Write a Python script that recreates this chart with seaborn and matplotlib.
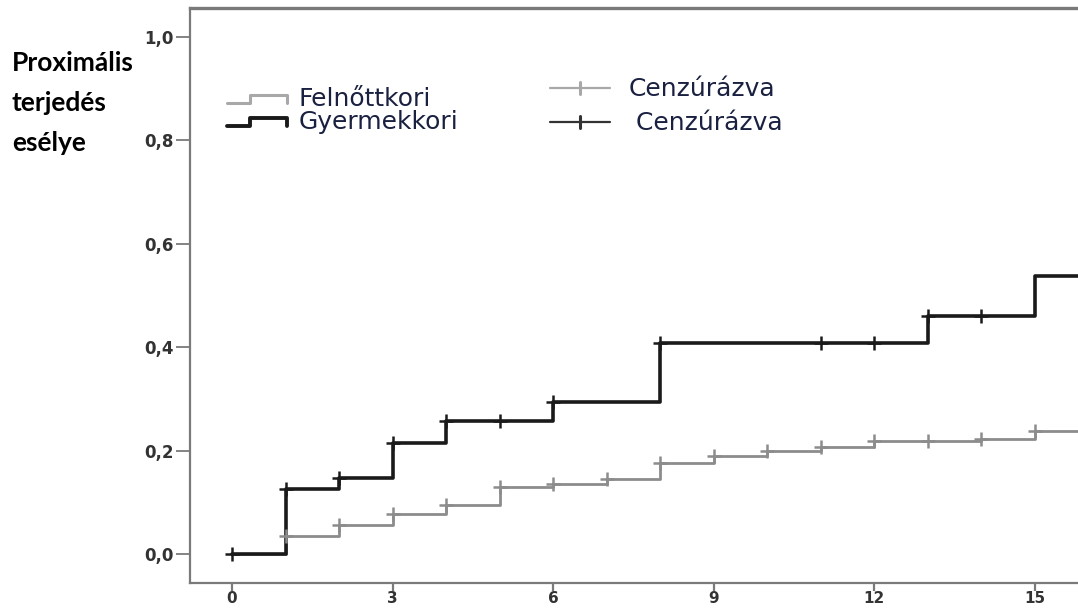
import numpy as np
import pandas as pd
import matplotlib
matplotlib.use("Agg")
import matplotlib.pyplot as plt
from matplotlib.lines import Line2D
from matplotlib.legend_handler import HandlerBase
import seaborn as sns

# Cumulative probability of proximal spread (1 - KM survival), by onset group
adult_times = [0, 1, 2, 3, 4, 5, 6, 7, 8, 9, 10, 11, 12, 13, 14, 15, 16]
adult_prob = [0.0, 0.035, 0.056, 0.077, 0.095, 0.130, 0.135, 0.145, 0.176,
              0.190, 0.199, 0.207, 0.219, 0.219, 0.222, 0.238, 0.238]
adult_censored = [1, 2, 3, 4, 5, 6, 7, 8, 9, 10, 11, 12, 13, 14, 15]

child_times = [0, 1, 2, 3, 4, 6, 8, 13, 15, 16]
child_prob = [0.0, 0.125, 0.147, 0.215, 0.257, 0.294, 0.408, 0.460, 0.538, 0.538]
child_censored = [0, 1, 2, 3, 4, 5, 6, 8, 11, 12, 13, 14]

group_labels = ["Felnőttkori", "Gyermekkori"]
censor_label = "Cenzúrázva"
y_label = "Proximális\nterjedés\nesélye"
x_ticks = [0, 3, 6, 9, 12, 15]
y_ticks = [0.0, 0.2, 0.4, 0.6, 0.8, 1.0]

ADULT_COLOR = "#8c8c8c"
CHILD_COLOR = "#1a1a1a"
SPINE_COLOR = "#7a7a7a"
TEXT_COLOR = "#1a2040"


def step_value(times, probs, t):
    idx = np.searchsorted(times, t, side="right") - 1
    return probs[idx]


sns.set_theme(style="white")
plt.rcParams["font.family"] = ["DejaVu Sans"]

fig = plt.figure(figsize=(10.78, 6.09), dpi=100)
ax = fig.add_axes([190 / 1078, 26 / 609, 888 / 1078, 575 / 609])

adult_df = pd.DataFrame({"t": adult_times, "p": adult_prob})
child_df = pd.DataFrame({"t": child_times, "p": child_prob})

sns.lineplot(data=adult_df, x="t", y="p", drawstyle="steps-post",
             color=ADULT_COLOR, linewidth=2.0, ax=ax, estimator=None)
sns.lineplot(data=child_df, x="t", y="p", drawstyle="steps-post",
             color=CHILD_COLOR, linewidth=2.6, ax=ax, estimator=None)

adult_cens = pd.DataFrame({
    "t": adult_censored,
    "p": [step_value(adult_times, adult_prob, t) for t in adult_censored]})
child_cens = pd.DataFrame({
    "t": child_censored,
    "p": [step_value(child_times, child_prob, t) for t in child_censored]})

sns.scatterplot(data=adult_cens, x="t", y="p", marker="+", s=110,
                color=ADULT_COLOR, linewidth=1.8, ax=ax, zorder=4)
sns.scatterplot(data=child_cens, x="t", y="p", marker="+", s=110,
                color=CHILD_COLOR, linewidth=1.8, ax=ax, zorder=4)

ax.set_xlim(-0.785, 15.81)
ax.set_ylim(-0.056, 1.056)
ax.set_xticks(x_ticks)
ax.set_yticks(y_ticks)
ax.set_xticklabels([str(v) for v in x_ticks])
ax.set_yticklabels([f"{v:.1f}".replace(".", ",") for v in y_ticks])
ax.tick_params(axis="y", direction="out", length=10, width=1.3,
               color=SPINE_COLOR, pad=2, labelsize=12, labelcolor="#333333",
               left=True)
ax.tick_params(axis="x", direction="out", length=6, width=1.6,
               color=SPINE_COLOR, pad=0, labelsize=11, labelcolor="#333333",
               bottom=True)
for lab in ax.get_xticklabels() + ax.get_yticklabels():
    lab.set_fontweight("bold")

for side in ["left", "bottom", "top"]:
    ax.spines[side].set_visible(True)
    ax.spines[side].set_color(SPINE_COLOR)
    ax.spines[side].set_linewidth(1.6)
ax.spines["top"].set_linewidth(2.4)
ax.spines["right"].set_visible(False)

ax.set_xlabel("")
ax.set_ylabel(y_label, rotation=0, ha="left", va="top", fontsize=19,
              fontweight="bold", family=["Lato", "DejaVu Sans"],
              color="black", linespacing=1.8)
ax.yaxis.set_label_coords(-0.2005, 0.925)


class StepHandler(HandlerBase):
    """Legend key drawn as a small step curve."""

    def create_artists(self, legend, orig_handle, xdescent, ydescent,
                       width, height, fontsize, trans):
        x0 = -xdescent
        lo = -ydescent + 0.2 * height
        hi = -ydescent + 0.65 * height
        xs = [x0, x0 + 0.38 * width, x0 + 0.38 * width, x0 + width, x0 + width]
        ys = [lo, lo, hi, hi, lo]
        line = Line2D(xs, ys, color=orig_handle.get_color(),
                      linewidth=orig_handle.get_linewidth(), transform=trans)
        return [line]


class CrossHandler(HandlerBase):
    """Legend key: horizontal line with a censoring tick in the middle."""

    def create_artists(self, legend, orig_handle, xdescent, ydescent,
                       width, height, fontsize, trans):
        x0 = -xdescent
        ym = -ydescent + 0.45 * height
        h = Line2D([x0, x0 + width], [ym, ym], color=orig_handle.get_color(),
                   linewidth=1.6, transform=trans)
        v = Line2D([x0 + width / 2, x0 + width / 2],
                   [ym - 0.35 * height, ym + 0.35 * height],
                   color=orig_handle.get_color(), linewidth=2.2,
                   transform=trans)
        return [h, v]


curve_handles = [Line2D([], [], color="#a8a8a8", linewidth=2.2),
                 Line2D([], [], color=CHILD_COLOR, linewidth=2.8)]
leg1 = ax.legend(curve_handles, group_labels,
                 handler_map={Line2D: StepHandler()},
                 loc="upper left", bbox_to_anchor=(0.0417, 0.862),
                 frameon=False, fontsize=18, handlelength=2.4,
                 handletextpad=0.45, labelspacing=-0.05, borderpad=0,
                 borderaxespad=0, labelcolor=TEXT_COLOR)
ax.add_artist(leg1)

censor_handles = [Line2D([], [], color="#a8a8a8"),
                  Line2D([], [], color="#333333")]
ax.legend(censor_handles, [censor_label, " " + censor_label],
          handler_map={Line2D: CrossHandler()},
          loc="upper left", bbox_to_anchor=(0.405, 0.88),
          frameon=False, fontsize=18, handlelength=2.4,
          handletextpad=0.75, labelspacing=0.4, borderpad=0,
          borderaxespad=0, labelcolor=TEXT_COLOR)

fig.savefig("out.png", dpi=100, facecolor="white")
